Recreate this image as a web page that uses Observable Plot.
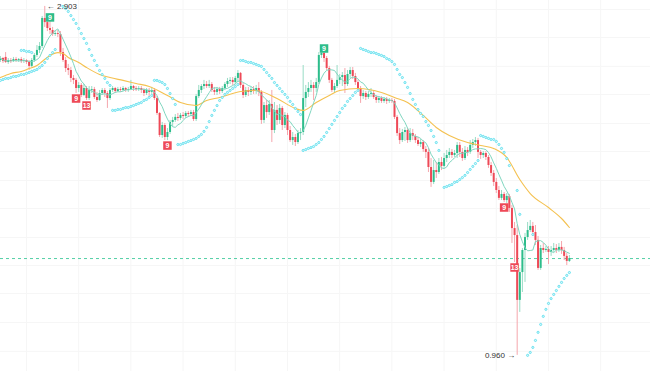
<!DOCTYPE html>
<html><head><meta charset="utf-8">
<script src="https://cdn.jsdelivr.net/npm/d3@7"></script>
<script src="https://cdn.jsdelivr.net/npm/@observablehq/plot@0.6"></script>
<style>html,body{margin:0;padding:0;background:#fff;}#chart svg{display:block;}</style>
</head><body><div id="chart"></div>
<script>
// OHLC per candle (index 0..218)
const open = [
2.602,2.613,2.619,2.591,2.602,2.596,2.607,2.602,2.607,2.596,
2.602,2.591,2.569,2.602,2.630,2.658,2.680,2.836,2.813,2.780,
2.769,2.747,2.752,2.747,2.646,2.602,2.557,2.546,2.502,2.491,
2.446,2.463,2.407,2.446,2.390,2.435,2.440,2.396,2.379,2.418,
2.435,2.418,2.390,2.435,2.446,2.429,2.440,2.435,2.446,2.435,
2.440,2.457,2.446,2.440,2.446,2.435,2.418,2.435,2.424,2.435,
2.390,2.307,2.184,2.240,2.173,2.201,2.257,2.268,2.285,2.279,
2.296,2.290,2.307,2.301,2.312,2.273,2.401,2.435,2.457,2.468,
2.457,2.468,2.435,2.424,2.440,2.429,2.446,2.468,2.485,2.491,
2.479,2.502,2.530,2.463,2.407,2.435,2.424,2.440,2.429,2.446,
2.424,2.268,2.351,2.312,2.357,2.212,2.324,2.268,2.335,2.240,
2.296,2.212,2.156,2.173,2.145,2.195,2.201,2.390,2.424,2.446,
2.463,2.446,2.479,2.630,2.641,2.613,2.557,2.491,2.435,2.457,
2.491,2.507,2.518,2.468,2.524,2.546,2.513,2.479,2.446,2.401,
2.418,2.396,2.413,2.418,2.396,2.379,2.390,2.374,2.385,2.374,
2.379,2.374,2.285,2.195,2.156,2.201,2.212,2.156,2.195,2.179,
2.156,2.134,2.145,2.106,2.090,2.006,1.923,1.989,1.978,2.034,
2.012,2.056,2.073,2.090,2.073,2.084,2.129,2.090,2.056,2.101,
2.090,2.129,2.145,2.156,2.090,2.073,2.084,2.062,2.017,1.973,
1.923,1.878,1.834,1.856,1.822,1.845,1.778,1.666,1.627,1.266,
1.421,1.544,1.616,1.655,1.678,1.644,1.600,1.444,1.555,1.544,
1.550,1.533,1.544,1.555,1.544,1.561,1.544,1.511,1.483];
const high = [
2.624,2.619,2.646,2.613,2.613,2.619,2.619,2.613,2.619,2.613,
2.607,2.602,2.613,2.641,2.685,2.702,2.847,2.903,2.836,2.825,
2.786,2.769,2.769,2.763,2.669,2.619,2.580,2.563,2.518,2.502,
2.479,2.474,2.468,2.457,2.457,2.457,2.452,2.424,2.435,2.446,
2.446,2.429,2.446,2.457,2.452,2.452,2.452,2.457,2.452,2.452,
2.491,2.463,2.457,2.457,2.457,2.446,2.446,2.446,2.452,2.446,
2.401,2.312,2.257,2.251,2.223,2.268,2.285,2.301,2.307,2.307,
2.312,2.318,2.318,2.324,2.324,2.413,2.463,2.468,2.491,2.485,
2.491,2.479,2.452,2.452,2.452,2.457,2.479,2.502,2.507,2.507,
2.513,2.546,2.535,2.474,2.452,2.452,2.452,2.457,2.463,2.479,
2.435,2.368,2.379,2.379,2.435,2.368,2.351,2.357,2.346,2.312,
2.307,2.234,2.201,2.190,2.212,2.223,2.574,2.463,2.479,2.491,
2.479,2.502,2.646,2.658,2.652,2.624,2.569,2.502,2.474,2.574,
2.524,2.535,2.557,2.546,2.563,2.563,2.530,2.491,2.457,2.435,
2.429,2.429,2.446,2.429,2.407,2.401,2.401,2.396,2.396,2.390,
2.390,2.385,2.296,2.223,2.218,2.229,2.223,2.223,2.218,2.190,
2.173,2.162,2.156,2.123,2.112,2.056,2.045,2.034,2.056,2.062,
2.084,2.101,2.112,2.106,2.101,2.145,2.145,2.112,2.123,2.117,
2.156,2.162,2.173,2.168,2.101,2.095,2.095,2.073,2.034,1.989,
1.945,1.900,1.878,1.867,1.861,1.856,1.795,1.700,1.683,1.444,
1.555,1.639,1.700,1.711,1.700,1.683,1.622,1.572,1.583,1.566,
1.566,1.566,1.583,1.577,1.583,1.594,1.561,1.527,1.516];
const low = [
2.591,2.585,2.585,2.580,2.585,2.591,2.591,2.591,2.585,2.585,
2.580,2.546,2.563,2.591,2.619,2.641,2.669,2.786,2.763,2.747,
2.736,2.736,2.730,2.624,2.591,2.535,2.518,2.479,2.468,2.418,
2.424,2.396,2.401,2.379,2.379,2.418,2.385,2.368,2.374,2.407,
2.396,2.335,2.379,2.424,2.418,2.424,2.424,2.429,2.424,2.424,
2.435,2.429,2.429,2.429,2.418,2.401,2.407,2.396,2.413,2.379,
2.296,2.173,2.168,2.156,2.156,2.190,2.234,2.257,2.262,2.268,
2.273,2.279,2.285,2.290,2.262,2.262,2.390,2.418,2.440,2.446,
2.446,2.424,2.407,2.407,2.413,2.418,2.435,2.452,2.468,2.463,
2.468,2.479,2.446,2.390,2.396,2.401,2.407,2.413,2.413,2.401,
2.246,2.251,2.279,2.296,2.145,2.195,2.240,2.246,2.212,2.223,
2.184,2.145,2.129,2.123,2.134,2.156,2.184,2.340,2.396,2.424,
2.379,2.424,2.468,2.613,2.591,2.546,2.474,2.424,2.418,2.446,
2.468,2.457,2.418,2.457,2.502,2.496,2.463,2.429,2.363,2.385,
2.379,2.385,2.396,2.385,2.363,2.363,2.363,2.363,2.357,2.363,
2.363,2.273,2.179,2.134,2.145,2.151,2.140,2.145,2.156,2.140,
2.123,2.117,2.090,2.056,1.978,1.895,1.911,1.945,1.967,1.989,
2.001,2.034,2.056,2.056,2.062,2.056,2.062,2.040,2.045,2.067,
2.079,2.112,2.123,2.056,2.051,2.056,2.045,2.001,1.956,1.900,
1.861,1.822,1.822,1.811,1.806,1.756,1.583,1.477,0.960,1.199,
1.310,1.366,1.600,1.644,1.622,1.572,1.433,1.433,1.527,1.533,
1.466,1.511,1.533,1.527,1.533,1.522,1.488,1.460,1.477];
const close = [
2.613,2.596,2.591,2.602,2.596,2.607,2.602,2.607,2.596,2.602,
2.591,2.569,2.602,2.630,2.658,2.680,2.836,2.813,2.780,2.769,
2.747,2.752,2.747,2.646,2.602,2.557,2.546,2.502,2.491,2.446,
2.463,2.407,2.446,2.390,2.435,2.440,2.396,2.379,2.418,2.435,
2.418,2.390,2.435,2.446,2.429,2.440,2.435,2.446,2.435,2.440,
2.457,2.446,2.440,2.446,2.435,2.418,2.435,2.424,2.435,2.390,
2.307,2.184,2.240,2.173,2.201,2.257,2.268,2.285,2.279,2.296,
2.290,2.307,2.301,2.312,2.273,2.401,2.435,2.457,2.468,2.457,
2.468,2.435,2.424,2.440,2.429,2.446,2.468,2.485,2.491,2.479,
2.502,2.530,2.463,2.407,2.435,2.424,2.440,2.429,2.446,2.424,
2.268,2.351,2.312,2.357,2.212,2.324,2.268,2.335,2.240,2.296,
2.212,2.156,2.173,2.145,2.195,2.201,2.390,2.424,2.446,2.463,
2.446,2.479,2.630,2.641,2.613,2.557,2.491,2.435,2.457,2.491,
2.507,2.518,2.468,2.524,2.546,2.513,2.479,2.446,2.401,2.418,
2.396,2.413,2.418,2.396,2.379,2.390,2.374,2.385,2.374,2.379,
2.374,2.285,2.195,2.156,2.201,2.212,2.156,2.195,2.179,2.156,
2.134,2.145,2.106,2.090,2.006,1.923,1.989,1.978,2.034,2.012,
2.056,2.073,2.090,2.073,2.084,2.129,2.090,2.056,2.101,2.090,
2.129,2.145,2.156,2.090,2.073,2.084,2.062,2.017,1.973,1.923,
1.878,1.834,1.856,1.822,1.845,1.778,1.666,1.627,1.266,1.421,
1.544,1.616,1.655,1.678,1.644,1.600,1.444,1.555,1.544,1.550,
1.533,1.544,1.555,1.544,1.561,1.544,1.511,1.483,1.499];

// slower moving average (orange), read at sample candles
const orangeIdx = [0,4,8,11,14,16,19,22,24,26,30,33,38,42,47,52,57,64,69,75,79,84,92,98,106,113,116,121,126,130,137,146,151,156,162,167,172,179,184,189,194,199,203,210,215,218];
const orangeVal = [2.507,2.530,2.541,2.557,2.574,2.596,2.630,2.646,2.641,2.619,2.591,2.563,2.524,2.507,2.491,2.474,2.457,2.407,2.368,2.351,2.379,2.396,2.429,2.435,2.390,2.335,2.324,2.368,2.407,2.435,2.446,2.424,2.396,2.368,2.296,2.229,2.184,2.145,2.129,2.112,2.062,1.939,1.861,1.783,1.722,1.672];

// parabolic SAR dots: segment start candle and consecutive values
const sarStart = [0, 8, 24, 43, 59, 68, 92, 116, 138, 170, 184, 198, 199, 204, 202];
const sarValues = [
 [2.491,2.496,2.502,2.502,2.507,2.513,2.513,2.518,2.524,2.524,2.530,2.535,2.541,2.546,2.552,2.563,2.574,2.591,2.613,2.630,2.646,2.663],
 [2.658,2.658,2.652,2.652,2.646],
 [2.903,2.891,2.875,2.852,2.830,2.808,2.780,2.752,2.724,2.697,2.663,2.630,2.602,2.574,2.546,2.524,2.502,2.479,2.463],
 [2.324,2.324,2.329,2.329,2.335,2.340,2.340,2.346,2.351,2.357,2.363,2.368,2.379,2.385,2.396,2.407],
 [2.491,2.491,2.485,2.479,2.468,2.446,2.418,2.390,2.357],
 [2.134,2.134,2.140,2.145,2.151,2.156,2.162,2.168,2.179,2.190,2.207,2.229,2.262,2.296,2.324,2.351,2.379,2.396,2.413,2.424,2.435,2.446,2.457,2.468],
 [2.602,2.602,2.596,2.591,2.591,2.585,2.580,2.574,2.569,2.552,2.535,2.518,2.502,2.479,2.463,2.446,2.429,2.413,2.396,2.374,2.357,2.335,2.318,2.301],
 [2.101,2.106,2.112,2.117,2.123,2.134,2.145,2.162,2.179,2.201,2.223,2.246,2.268,2.290,2.312,2.335,2.351,2.374,2.390,2.407,2.424,2.435],
 [2.669,2.663,2.658,2.652,2.646,2.646,2.641,2.635,2.630,2.624,2.613,2.607,2.596,2.580,2.552,2.524,2.507,2.479,2.452,2.418,2.385,2.357,2.329,2.307,2.290,2.262,2.240,2.212,2.179,2.145,2.101],
 [1.895,1.900,1.906,1.911,1.923,1.928,1.939,1.950,1.962,1.978,1.995,2.012,2.028,2.045],
 [2.184,2.179,2.173,2.168,2.162,2.162,2.151,2.134,2.112,2.090,2.056,2.017],
 [1.878],
 [1.745],
 [1.633],
 [0.960,0.976,1.004,1.043,1.088,1.132,1.177,1.216,1.249,1.276,1.299,1.321,1.344,1.366,1.388,1.405,1.421]
];

// TD sequential style count labels
const labelIdx  = [19, 29, 33, 64, 124, 193, 197];
const labelText = ["9", "9", "13", "9", "9", "9", "13"];
const labelSide = ["up", "down", "down", "down", "up", "down", "down"];

// background grid
const gridIdx = [10,30,50,70,90,110,130,150,170,190,210,230];
const gridPrice = [2.886,2.730,2.569,2.413,2.251,2.095,1.934,1.778,1.616,1.460,1.304,1.143,0.982];

const candles = close.map((c, i) => ({i, open: open[i], high: high[i], low: low[i], close: c, up: c >= open[i]}));
const sar = sarStart.flatMap((s, k) => sarValues[k].map((v, j) => ({i: s + j, v})));
const orange = orangeIdx.map((d, k) => ({i: d, v: orangeVal[k]}));
const labels = labelIdx.map((d, k) => ({i: d, text: labelText[k], side: labelSide[k], v: labelSide[k] === "up" ? high[d] : low[d]}));
const upLabels = labels.filter(d => d.side === "up");
const downLabels = labels.filter(d => d.side === "down");
const hiI = d3.maxIndex(high), loI = d3.minIndex(low);
const last = close[close.length - 1];

const GREEN = "#2dbd8b", RED = "#ee4957";

const chart = Plot.plot({
  width: 650, height: 371,
  marginTop: 0, marginBottom: 0, marginLeft: 0, marginRight: 0,
  x: {domain: [0.038, 249.08], axis: null},
  y: {domain: [0.870, 2.936], axis: null},
  color: {type: "identity"},
  style: {fontFamily: "'Liberation Sans', Arial, sans-serif", background: "#fff"},
  marks: [
    Plot.ruleX(gridIdx, {stroke: "#f6f6f6"}),
    Plot.ruleY(gridPrice, {stroke: "#f6f6f6"}),
    Plot.ruleY([last], {stroke: "#52cfa5", strokeDasharray: "3,3"}),
    Plot.ruleX(candles, {x: "i", y1: "low", y2: "high", stroke: d => d.up ? "#98dcc5" : "#f5a6ad", strokeWidth: 1}),
    Plot.ruleX(candles, {x: "i", y1: "open", y2: "close", stroke: d => d.up ? GREEN : RED, strokeWidth: 2}),
    Plot.line(orange, {x: "i", y: "v", stroke: "#f4c150", strokeWidth: 1.1, curve: "monotone-x"}),
    Plot.lineY(candles, Plot.windowY({k: 7, anchor: "end"}, {x: "i", y: "close", stroke: "#7fd6bf", strokeWidth: 1})),
    Plot.dot(sar, {x: "i", y: "v", r: 1.1, stroke: "#52dcec", fill: "#d4f7fa", strokeWidth: 0.8}),
    Plot.dot(upLabels, {x: "i", y: "v", dy: -3, symbol: "square", r: 4.8, fill: GREEN}),
    Plot.text(upLabels, {x: "i", y: "v", dy: -3, text: "text", fill: "#fff", fontSize: 7, fontWeight: "bold"}),
    Plot.dot(downLabels, {x: "i", y: "v", dy: 5, symbol: "square", r: 4.8, fill: RED}),
    Plot.text(downLabels, {x: "i", y: "v", dy: 5, text: "text", fill: "#fff", fontSize: 7, fontWeight: "bold"}),
    Plot.text([{i: hiI, v: high[hiI]}], {x: "i", y: "v", text: d => "← " + d.v.toFixed(3), textAnchor: "start", dx: 2, fontSize: 8, fill: "#333"}),
    Plot.text([{i: loI, v: low[loI]}], {x: "i", y: "v", text: d => d.v.toFixed(3) + " →", textAnchor: "end", dx: -2, fontSize: 8, fill: "#333"})
  ]
});
document.getElementById("chart").appendChild(chart);
</script>
</body></html>
